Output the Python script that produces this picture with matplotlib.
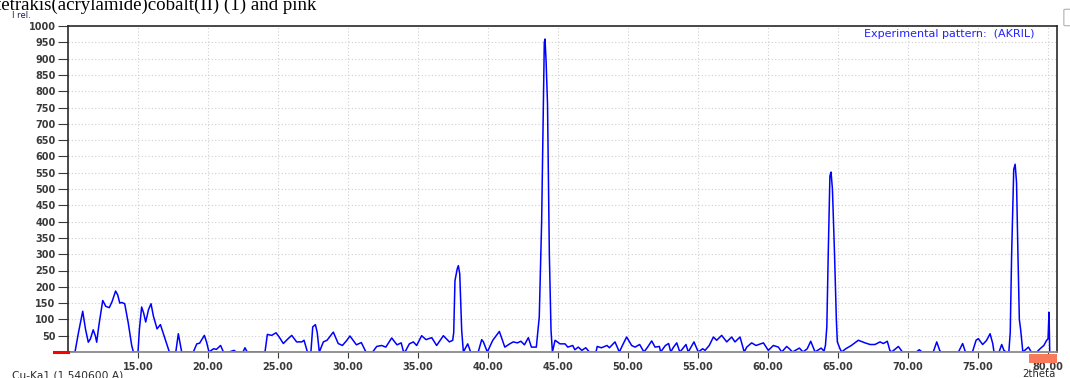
import matplotlib.pyplot as plt
from matplotlib.patches import Rectangle, FancyBboxPatch
from matplotlib.lines import Line2D

# XRD pattern (2theta in degrees, relative intensity)
two_theta = [10.0, 10.5, 10.75, 11.05, 11.25, 11.45, 11.6, 11.8, 11.95, 12.05, 12.2, 12.48, 12.7, 12.95,
             13.15, 13.4, 13.55, 13.7, 13.85, 14.05, 14.3, 14.55, 14.67, 15.0, 15.1, 15.26, 15.4, 15.55,
             15.75, 15.93, 16.1, 16.36, 16.6, 16.9, 17.24, 17.7, 17.88, 18.12, 18.95, 19.2, 19.4, 19.74,
             19.9, 20.07, 20.4, 20.6, 20.9, 21.1, 21.5, 21.86, 22.0, 22.5, 22.64, 22.8, 24.07, 24.24,
             24.55, 24.86, 25.1, 25.38, 25.7, 25.98, 26.33, 26.7, 26.86, 27.1, 27.35, 27.48, 27.67, 27.8,
             27.95, 28.24, 28.5, 28.95, 29.3, 29.6, 29.9, 30.14, 30.6, 30.95, 31.28, 31.76, 32.05, 32.4,
             32.7, 33.12, 33.5, 33.8, 33.95, 34.07, 34.38, 34.67, 34.9, 35.26, 35.57, 35.98, 36.33, 36.81,
             37.24, 37.48, 37.55, 37.64, 37.8, 37.88, 37.98, 38.05, 38.12, 38.24, 38.55, 38.76, 39.3,
             39.55, 39.67, 39.95, 40.34, 40.81, 41.0, 41.2, 41.55, 41.8, 42.1, 42.35, 42.6, 42.88, 43.1,
             43.45, 43.66, 43.83, 43.95, 44.02, 44.07, 44.15, 44.25, 44.38, 44.5, 44.6, 44.79, 45.14,
             45.5, 45.7, 46.05, 46.2, 46.45, 46.7, 46.98, 47.24, 47.71, 47.8, 48.1, 48.5, 48.67, 49.07,
             49.38, 49.6, 49.9, 50.26, 50.5, 50.83, 51.14, 51.4, 51.69, 51.93, 52.24, 52.33, 52.67, 52.9,
             53.05, 53.25, 53.48, 53.7, 53.9, 54.14, 54.3, 54.5, 54.71, 55.02, 55.33, 55.5, 55.8, 56.1,
             56.33, 56.69, 57.05, 57.4, 57.64, 58.0, 58.3, 58.48, 58.83, 59.14, 59.67, 60.02, 60.38,
             60.74, 60.98, 61.33, 61.52, 61.75, 62.24, 62.5, 62.8, 63.05, 63.36, 63.79, 64.0, 64.1, 64.2,
             64.3, 64.42, 64.5, 64.6, 64.75, 64.88, 64.95, 65.14, 65.26, 65.55, 65.95, 66.45, 66.93,
             67.29, 67.64, 68.0, 68.24, 68.52, 68.7, 68.83, 69.31, 69.6, 70.6, 70.8, 71.0, 71.8, 72.05,
             72.26, 72.35, 73.6, 73.9, 74.1, 74.6, 74.86, 75.02, 75.33, 75.6, 75.86, 76.05, 76.14, 76.5,
             76.69, 76.85, 77.0, 77.2, 77.3, 77.4, 77.55, 77.65, 77.75, 77.85, 77.95, 78.05, 78.2, 78.6,
             78.8, 79.2, 79.43, 79.7, 79.9, 80.0, 80.07, 80.12]
intensity = [0, 0, 60, 125, 70, 30, 40, 68, 50, 30, 80, 158, 140, 136,
             155, 187, 175, 150, 152, 148, 90, 20, 0, 0, 70, 138, 120, 92,
             130, 148, 110, 71, 84, 45, 0, 0, 56, 0, 0, 25, 27, 51,
             30, 0, 10, 8, 20, 0, 0, 5, 0, 0, 13, 0, 0, 54,
             51, 59, 45, 26, 40, 51, 31, 31, 36, 0, 0, 77, 84, 60,
             0, 31, 36, 61, 26, 20, 35, 49, 22, 29, 0, 0, 17, 20,
             15, 43, 22, 28, 3, 0, 25, 31, 20, 50, 38, 44, 20, 50,
             31, 36, 60, 219, 255, 265, 240, 150, 66, 0, 25, 0, 0,
             38, 31, 0, 36, 63, 40, 15, 25, 31, 28, 33, 22, 44, 15,
             15, 107, 400, 760, 950, 960, 890, 760, 300, 66, 0, 36, 25,
             25, 15, 20, 7, 15, 5, 13, 0, 0, 17, 13, 20, 13, 31,
             0, 20, 46, 20, 15, 23, 0, 15, 34, 15, 17, 0, 20, 26,
             0, 15, 28, 0, 10, 23, 0, 15, 31, 0, 10, 5, 20, 46,
             36, 51, 31, 46, 31, 46, 0, 15, 28, 20, 28, 5, 20,
             15, 0, 17, 10, 0, 12, 0, 10, 33, 0, 12, 3, 20, 77,
             300, 540, 552, 500, 300, 100, 31, 10, 0, 10, 20, 36, 28,
             23, 23, 31, 26, 33, 5, 0, 17, 0, 0, 7, 0, 0, 31,
             5, 0, 0, 26, 0, 0, 36, 41, 23, 35, 56, 26, 0, 0,
             23, 5, 0, 0, 60, 300, 560, 576, 520, 300, 100, 66, 0, 15,
             0, 0, 10, 20, 36, 40, 122, 0]

x_ticks = [15, 20, 25, 30, 35, 40, 45, 50, 55, 60, 65, 70, 75, 80]
y_ticks = list(range(50, 1001, 50))

fig = plt.figure(figsize=(10.7, 3.78), dpi=100)
ax = fig.add_axes([68 / 1070, 26 / 378, 989 / 1070, 326 / 378])

ax.plot(two_theta, intensity, color="#0000ff", lw=1.1, zorder=2)
ax.set_xlim(10, 80.64)
ax.set_ylim(0, 1000)

ax.set_xticks(x_ticks)
ax.set_xticklabels(["%.2f" % t for t in x_ticks])
ax.set_yticks(y_ticks)
ax.set_yticklabels([str(v) for v in y_ticks])
ax.tick_params(axis="both", labelsize=7, colors="#3a3a3a", width=0.8)
ax.tick_params(axis="y", length=7, pad=2)
ax.tick_params(axis="x", length=4, pad=3)
for lab in ax.get_xticklabels() + ax.get_yticklabels():
    lab.set_fontweight("bold")

ax.grid(True, color="#cfcfcf", lw=0.8, linestyle=(0, (1, 2)))
ax.set_axisbelow(True)

for s in ["left", "top", "right"]:
    ax.spines[s].set_color("#2a2a2a")
    ax.spines[s].set_linewidth(1.2)
ax.spines["bottom"].set_color("#8a8a8a")
ax.spines["bottom"].set_linewidth(1.3)
ax.spines["bottom"].set_zorder(3)

ax.text(0.977, 0.975, "Experimental pattern:  (AKRIL)", transform=ax.transAxes,
        ha="right", va="center", fontsize=8, color="#2222ff")

# texts and marks around the axes
fig.text(12 / 1070, 1 - 16 / 378, "I rel.", fontsize=6, color="#1c1c5c", va="center")
fig.text(12 / 1070, 1 - 375 / 378, "Cu-Ka1 (1.540600 A)", fontsize=7.7, color="#2a2a2a", va="center")
fig.text(1039 / 1070, 1 - 374 / 378, "2theta", fontsize=7.3, color="#2a2a2a", va="center", ha="center")
fig.text(-4 / 1070, 1 - 10 / 378, "tetrakis(acrylamide)cobalt(II) (1) and pink",
         family="Liberation Serif", fontsize=13.6, color="black", va="baseline")

fig.add_artist(Line2D([54 / 1070, 68 / 1070], [1 - 352 / 378] * 2, color="#ff0000", lw=2.2))
fig.add_artist(Rectangle((1029 / 1070, 1 - 363 / 378), 28 / 1070, 9 / 378,
                         facecolor="#f87a5a", edgecolor="none", zorder=5))
fig.add_artist(FancyBboxPatch((1066 / 1070, 1 - 25 / 378), 10 / 1070, 15 / 378,
                              boxstyle="round,pad=0.002", facecolor="white",
                              edgecolor="#b0b0b0", lw=0.8))

fig.savefig("out.png", dpi=100)
